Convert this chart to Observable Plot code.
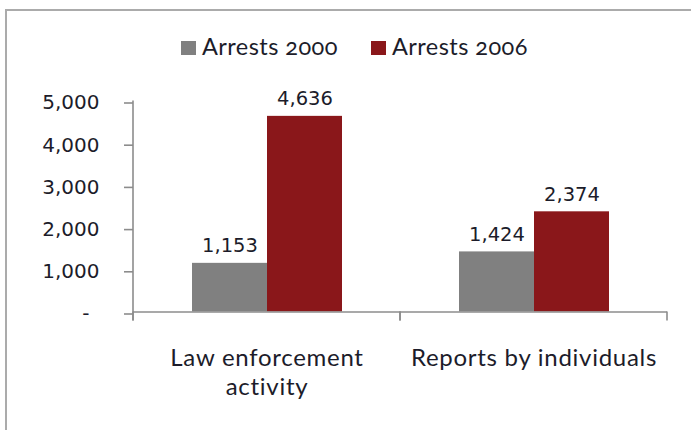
<!DOCTYPE html>
<html>
<head>
<meta charset="utf-8">
<script src="https://cdn.jsdelivr.net/npm/d3@7"></script>
<script src="https://cdn.jsdelivr.net/npm/@observablehq/plot@0.6"></script>
<style>
  html, body { margin: 0; padding: 0; background: #fff; }
  #wrap { position: relative; width: 691px; height: 430px; overflow: hidden; background: #fff; }
  #frame { position: absolute; left: 5px; top: 9px; width: 800px; height: 800px;
           border-left: 2px solid #ababab; border-top: 2px solid #ababab; z-index: 2; pointer-events: none; }
  #legend { position: relative; height: 72px; font-family: Lato, "Noto Sans", sans-serif; font-size: 23.5px;
            letter-spacing: 0.45px;
            color: #1c1c2a; font-variant-numeric: oldstyle-nums; font-feature-settings: "onum" 1; }
  .sw { position: absolute; width: 15px; height: 14px; top: 41px; }
  .lt { position: absolute; top: 35.2px; line-height: 1; white-space: nowrap; }
  .cat text { letter-spacing: 0.72px; }
</style>
</head>
<body>
<div id="wrap">
  <div id="frame"></div>
  <div id="legend"></div>
  <div id="chart"></div>
</div>
<script>
// ---- data ----
const categories = ["Law enforcement activity", "Reports by individuals"];
const categoryLabels = ["Law enforcement\nactivity", "Reports by individuals"];
const series = ["Arrests 2000", "Arrests 2006"];
const arrests2000 = [1153, 1424];
const arrests2006 = [4636, 2374];
const yTicks = [0, 1000, 2000, 3000, 4000, 5000];
const seriesColors = ["#808080", "#8a171a"];

const data = [];
categories.forEach((c, i) => {
  data.push({category: c, series: series[0], value: arrests2000[i]});
  data.push({category: c, series: series[1], value: arrests2006[i]});
});
const catData = categories.map((c, i) => ({category: c, label: categoryLabels[i]}));
const fmt = d3.format(",");

// ---- legend ----
const legend = document.getElementById("legend");
const legendPos = [{sw: 181, tx: 202}, {sw: 371, tx: 392}];
series.forEach((s, i) => {
  const sw = document.createElement("div");
  sw.className = "sw"; sw.style.left = legendPos[i].sw + "px"; sw.style.background = seriesColors[i];
  const t = document.createElement("div");
  t.className = "lt"; t.style.left = legendPos[i].tx + "px"; t.textContent = s;
  legend.appendChild(sw); legend.appendChild(t);
});

// ---- chart ----
const chart = Plot.plot({
  width: 691,
  height: 358,
  marginTop: 28.5,
  marginBottom: 118.5,
  marginLeft: 133,
  marginRight: 24,
  style: {background: "transparent", overflow: "visible"},
  fx: {domain: categories, paddingInner: 0, paddingOuter: 0, axis: null, label: null},
  x: {domain: series, paddingInner: 0, paddingOuter: 0.78, axis: null, label: null},
  y: {domain: [0, 5000], axis: null, label: null},
  color: {domain: series, range: seriesColors},
  marks: [
    Plot.barY(data, {fx: "category", x: "series", y: "value", fill: "series", inset: 0}),
    Plot.ruleY([0], {stroke: "#8c8c8c", strokeWidth: 1.6}),
    Plot.axisY({
      ticks: yTicks, tickSize: 9, tickPadding: 25,
      tickFormat: d => d === 0 ? "-\u2002" : fmt(d),
      stroke: "#8c8c8c", strokeWidth: 1.6, fill: "#1c1c2a",
      fontSize: 20, fontFamily: "DejaVu Sans", dy: 2
    }),
    Plot.text(data, {
      fx: "category", x: "series", y: "value", text: d => fmt(d.value),
      lineAnchor: "bottom", dy: -11, fontSize: 19.5, fontFamily: "DejaVu Sans", fill: "#1c1c2a"
    }),
    Plot.text(catData, {
      fx: "category", text: "label", frameAnchor: "bottom", lineAnchor: "top",
      dy: 33.5, lineHeight: 1.2, fontSize: 24, fontFamily: "Lato", fill: "#1c1c2a",
      className: "cat"
    })
  ]
});

// axis line and category separators, positioned through Plot's scales
const fxS = chart.scale("fx"), yS = chart.scale("y");
const y0 = yS.apply(0), yTop = yS.apply(5000);
const g = d3.select(chart).append("g").attr("stroke", "#8c8c8c").attr("stroke-width", 1.6);
const x0 = fxS.apply(categories[0]);
g.append("line").attr("x1", x0).attr("x2", x0).attr("y1", yTop).attr("y2", y0 + 9);
categories.forEach(c => {
  const xl = fxS.apply(c), xr = xl + fxS.bandwidth;
  [xl, xr].forEach(x => g.append("line").attr("x1", x).attr("x2", x).attr("y1", y0).attr("y2", y0 + 9));
});

document.getElementById("chart").appendChild(chart);
</script>
</body>
</html>
